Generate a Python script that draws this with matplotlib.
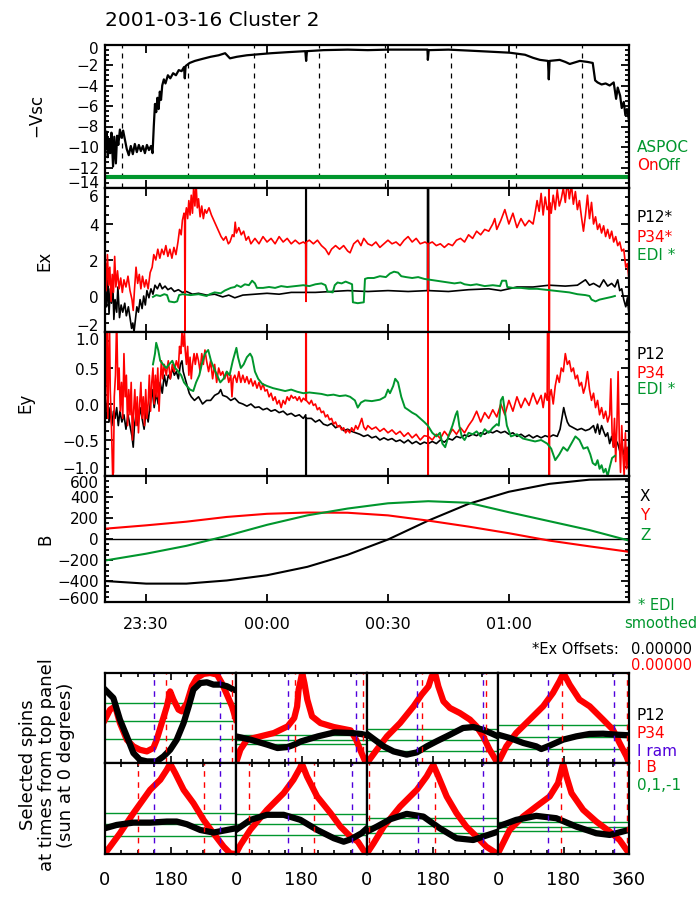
import numpy as np;
import matplotlib;
matplotlib.use('Agg');
import matplotlib.pyplot as plt;
from matplotlib.ticker import FixedLocator, MultipleLocator, AutoMinorLocator, NullLocator;

W, H = 700, 900;
RED = '#ff0000';
GREEN = '#00962d';
BLUE = '#5000dc';

# ---------------- top panels (time = minutes after 00:00 UT) ----------------
t_range = (-40.2, 89.8);
time_ticks = [-30, 0, 30, 60];
time_labels = ['23:30', '00:00', '00:30', '01:00'];
spin_times = [-36.0, -19.6, -3.2, 12.9, 29.3, 45.6, 61.8, 78.1];

vsc_ticks = [-14, -12, -10, -8, -6, -4, -2, 0];
ex_ticks = [-2, 0, 2, 4, 6];
ey_ticks = [-1.0, -0.5, 0.0, 0.5, 1.0];
b_ticks = [-600, -400, -200, 0, 200, 400, 600];

vsc = np.array([
    (-40.1, -10.2), (-39.8, -8.5), (-39.5, -11.0), (-39.2, -9.2), (-38.9, -10.6), (-38.6, -8.6),
    (-38.2, -11.9), (-37.9, -9.0), (-37.5, -11.6), (-37.2, -8.9), (-36.9, -9.8), (-36.5, -8.3),
    (-36.1, -9.1), (-35.7, -8.4), (-35.2, -9.4), (-34.8, -10.2), (-34.3, -10.8), (-33.8, -9.9),
    (-33.3, -10.7), (-32.8, -9.7), (-32.3, -10.5), (-31.8, -9.8), (-31.3, -10.4), (-30.8, -9.9),
    (-30.3, -10.6), (-29.8, -9.8), (-29.3, -10.3), (-28.8, -9.9), (-28.4, -10.6), (-28.1, -8.0),
    (-27.8, -5.8), (-27.5, -6.6), (-27.2, -5.2), (-26.9, -6.3), (-26.6, -4.6), (-26.3, -5.4),
    (-26.0, -4.0), (-25.6, -3.4), (-25.2, -3.8), (-24.6, -3.0), (-24.0, -3.3), (-23.3, -2.8),
    (-22.6, -3.0), (-21.9, -2.5), (-21.2, -2.6), (-20.6, -2.2), (-20.4, -3.3), (-20.2, -2.1),
    (-19.2, -1.8), (-17.9, -1.6), (-16.0, -1.4), (-14.0, -1.2), (-12.0, -1.05), (-10.4, -0.85),
    (-9.2, -1.35), (-7.5, -1.2), (-5.0, -1.05), (-2.0, -0.95), (1.0, -0.85), (5.0, -0.75),
    (9.5, -0.65), (9.7, -1.6), (9.9, -0.65), (14.0, -0.55), (20.0, -0.5), (25.0, -0.55),
    (30.0, -0.5), (35.0, -0.5), (39.8, -0.5), (39.9, -1.5), (40.1, -0.55), (45.0, -0.5),
    (50.3, -0.6), (55.3, -0.7), (60.2, -0.8), (64.0, -1.0), (66.0, -1.3), (67.7, -1.5),
    (69.7, -1.6), (69.9, -3.4), (70.1, -1.6), (72.6, -1.5), (74.0, -1.7), (75.1, -1.9),
    (77.6, -1.6), (79.5, -1.7), (80.8, -1.8), (81.4, -3.5), (82.0, -3.7), (83.0, -3.9),
    (84.0, -3.8), (85.0, -4.0), (86.0, -3.7), (86.6, -5.3), (87.0, -4.2), (87.6, -5.0),
    (88.0, -6.2), (88.5, -5.6), (88.9, -6.9), (89.3, -6.3), (89.8, -7.4)]);
aspoc_time = [-40.2, 89.8];
aspoc_level = [-12.9, -12.9];

ex_p12 = np.array([
    (-40.1, 0.3), (-39.8, -0.6), (-39.5, 0.9), (-39.2, -1.0), (-38.9, 0.4), (-38.6, -0.4),
    (-38.3, 1.0), (-38.0, -1.3), (-37.7, -0.2), (-37.3, -0.9), (-37.0, 0.5), (-36.6, -1.2),
    (-36.2, -0.5), (-35.8, -0.9), (-35.3, -0.4), (-34.9, -1.1), (-34.4, -0.6), (-34.0, -1.2),
    (-33.6, -1.8), (-33.3, -1.5), (-33.0, -2.0), (-32.7, -1.4), (-32.3, -0.6), (-31.9, -0.9),
    (-31.5, -0.2), (-31.0, -0.7), (-30.6, 0.0), (-30.2, -0.5), (-29.8, 0.3), (-29.3, -0.1),
    (-28.8, 0.4), (-28.3, 0.1), (-27.8, 0.6), (-27.2, 0.4), (-26.6, 0.7), (-26.0, 0.4),
    (-25.3, 0.55), (-24.6, 0.35), (-23.8, 0.45), (-23.0, 0.25), (-22.0, 0.35), (-21.0, 0.2),
    (-20.0, 0.25), (-18.5, 0.1), (-17.0, 0.15), (-15.0, 0.05), (-13.0, 0.1), (-11.0, -0.05),
    (-9.5, 0.05), (-8.0, -0.1), (-6.0, 0.05), (-3.0, 0.1), (0.0, 0.15), (3.0, 0.1),
    (6.0, 0.2), (9.6, 0.2), (9.67, 30.0), (9.75, 0.2), (12.0, 0.2), (16.0, 0.25),
    (20.0, 0.3), (25.0, 0.25), (30.0, 0.3), (35.0, 0.25), (39.8, 0.3), (39.94, 30.0),
    (40.1, 0.3), (45.0, 0.25), (50.0, 0.35), (55.0, 0.4), (58.0, 0.3), (62.0, 0.5),
    (66.0, 0.5), (70.0, 0.6), (74.0, 0.55), (77.0, 0.6), (79.0, 0.9), (80.0, 0.6),
    (81.0, 0.7), (82.5, 0.5), (83.5, 0.9), (84.5, 0.55), (85.5, 0.7), (86.3, 0.5),
    (87.0, 0.9), (87.5, 0.3), (88.0, 0.4), (88.5, -0.2), (89.0, -0.6), (89.4, -0.1),
    (89.8, -1.0)]);

ex_p34 = np.array([
    (-40.1, 1.8), (-39.9, 0.3), (-39.6, 2.3), (-39.3, 0.6), (-39.0, 1.6), (-38.7, -0.3),
    (-38.4, 1.2), (-38.1, 0.2), (-37.8, 2.2), (-37.5, 0.5), (-37.1, 1.4), (-36.7, 0.4),
    (-36.3, 1.0), (-35.9, 0.2), (-35.5, 0.9), (-35.0, 0.5), (-34.5, 1.1), (-34.0, 0.3),
    (-33.5, -0.2), (-33.2, -0.8), (-32.9, 0.3), (-32.5, 1.6), (-32.1, 0.7), (-31.7, 1.2),
    (-31.3, 0.4), (-30.9, 1.1), (-30.4, 0.5), (-30.0, 0.9), (-29.5, 0.4), (-29.0, 1.3),
    (-28.5, 1.6), (-28.1, 2.3), (-27.6, 2.0), (-27.1, 2.6), (-26.6, 2.1), (-26.1, 2.6),
    (-25.6, 2.3), (-25.1, 2.8), (-24.6, 2.2), (-24.1, 2.6), (-23.6, 2.1), (-23.1, 2.7),
    (-22.6, 2.3), (-22.1, 3.0), (-21.7, 3.7), (-21.3, 3.4), (-21.0, 4.2), (-20.6, 4.6),
    (-20.45, 4.4), (-20.35, -2.5), (-20.25, 4.5), (-20.0, 4.9), (-19.7, 4.3), (-19.4, 5.3),
    (-19.1, 4.5), (-18.8, 5.6), (-18.5, 4.6), (-18.2, 6.1), (-17.9, 5.0), (-17.6, 6.2),
    (-17.3, 4.9), (-17.0, 5.4), (-16.6, 4.4), (-16.2, 5.0), (-15.8, 4.3), (-15.4, 4.8),
    (-15.0, 4.6), (-14.4, 4.9), (-13.8, 4.5), (-13.2, 4.2), (-12.6, 3.9), (-12.0, 3.6),
    (-11.4, 3.3), (-10.8, 3.1), (-10.2, 3.3), (-9.6, 2.9), (-9.2, 3.0), (-8.6, 3.4),
    (-8.2, 3.3), (-7.9, 4.1), (-7.6, 3.5), (-7.0, 3.8), (-6.4, 3.4), (-5.8, 3.6),
    (-5.2, 3.1), (-4.6, 3.3), (-4.0, 2.9), (-3.0, 3.2), (-2.0, 2.9), (-1.0, 3.3),
    (0.0, 3.0), (1.0, 3.2), (2.0, 2.9), (3.0, 3.3), (4.0, 3.0), (5.0, 3.2),
    (6.0, 2.9), (7.0, 3.1), (8.0, 2.9), (9.0, 3.0), (9.6, 2.9), (9.67, -0.3),
    (9.75, 3.0), (10.5, 3.1), (11.5, 2.9), (12.5, 3.1), (13.5, 2.8), (14.5, 2.6),
    (15.3, 2.3), (16.0, 2.6), (17.0, 2.8), (18.0, 2.6), (19.0, 2.8), (20.0, 2.5),
    (20.6, 2.4), (21.5, 2.9), (22.5, 3.1), (23.3, 2.8), (24.0, 3.2), (25.0, 2.9),
    (26.0, 2.8), (27.0, 3.0), (28.0, 2.7), (29.0, 2.9), (30.0, 3.1), (31.0, 2.9),
    (32.0, 3.0), (33.0, 2.8), (34.0, 3.1), (35.0, 3.3), (36.0, 3.0), (37.0, 3.2),
    (38.0, 2.9), (39.2, 3.0), (39.9, 2.9), (39.94, -10.0), (40.0, 2.9), (41.0, 3.0),
    (42.0, 2.8), (43.0, 2.9), (44.0, 2.7), (45.0, 2.9), (46.0, 2.8), (47.0, 3.1),
    (48.0, 3.2), (49.0, 3.0), (50.0, 3.4), (51.0, 3.2), (52.0, 3.6), (53.0, 3.4),
    (54.0, 3.7), (55.0, 3.6), (56.0, 4.0), (56.5, 4.3), (57.0, 3.7), (58.0, 4.2),
    (59.0, 4.8), (60.0, 4.0), (61.0, 4.6), (62.0, 3.8), (63.0, 4.3), (64.0, 3.9),
    (65.0, 4.2), (66.0, 4.0), (66.5, 4.6), (67.0, 5.3), (67.5, 4.7), (68.0, 5.7),
    (68.5, 4.5), (69.0, 5.5), (69.5, 4.8), (69.9, 5.0), (69.93, 20.0), (69.99, -20.0),
    (70.1, 5.2), (70.5, 4.6), (71.0, 5.6), (71.5, 4.8), (72.0, 5.9), (72.5, 5.0),
    (73.0, 5.4), (73.5, 6.0), (74.0, 5.2), (74.5, 6.4), (75.0, 5.4), (75.5, 6.2),
    (76.0, 5.1), (76.5, 5.8), (77.0, 4.8), (77.5, 5.3), (78.0, 4.4), (78.5, 3.6),
    (79.0, 4.5), (79.5, 5.6), (80.0, 4.3), (80.5, 5.2), (81.0, 4.0), (81.5, 4.4),
    (82.0, 3.7), (82.5, 4.0), (83.0, 3.5), (83.5, 3.9), (84.0, 3.3), (84.5, 3.7),
    (85.0, 3.2), (85.5, 3.6), (86.0, 3.0), (86.5, 3.3), (87.0, 2.8), (87.5, 3.0),
    (88.0, 2.5), (88.5, 2.6), (89.0, 1.6), (89.4, 1.8), (89.8, 0.9)]);

ex_edi = np.array([
    (-28.3, -0.05), (-27.5, 0.05), (-26.5, 0.0), (-25.5, 0.1), (-24.8, 0.05), (-24.3, -0.3),
    (-23.0, -0.35), (-22.3, -0.3), (-21.8, 0.05), (-21.0, 0.1), (-19.0, 0.05), (-17.0, 0.1),
    (-15.0, 0.0), (-14.2, 0.1), (-13.0, 0.2), (-11.5, 0.15), (-10.5, 0.3), (-9.0, 0.45),
    (-8.0, 0.5), (-7.5, 0.6), (-6.5, 0.5), (-5.5, 0.65), (-4.5, 0.6), (-3.7, 0.85),
    (-3.0, 0.7), (-2.5, 0.45), (-1.0, 0.45), (0.5, 0.5), (2.0, 0.45), (3.5, 0.55),
    (5.0, 0.5), (7.0, 0.55), (9.0, 0.6), (10.5, 0.55), (12.0, 0.65), (13.5, 0.7),
    (14.5, 0.6), (15.0, 0.25), (16.3, 0.2), (16.8, 0.6), (17.5, 0.75), (18.5, 0.7),
    (19.5, 0.8), (20.6, 0.7), (21.1, 0.65), (21.3, -0.35), (22.5, -0.4), (24.0, -0.35),
    (24.3, 0.95), (25.0, 1.0), (26.5, 1.0), (28.0, 1.1), (29.5, 1.05), (30.5, 1.25),
    (31.5, 1.35), (32.5, 1.3), (33.3, 1.1), (34.5, 1.05), (36.0, 1.0), (37.5, 1.05),
    (39.0, 0.95), (40.5, 0.9), (42.0, 0.85), (43.5, 0.8), (45.0, 0.75), (46.5, 0.7),
    (48.0, 0.75), (49.0, 0.65), (50.5, 0.6), (52.0, 0.65), (54.0, 0.55), (56.0, 0.6),
    (57.8, 0.55), (58.3, 0.85), (59.3, 0.85), (59.6, 0.5), (61.0, 0.45), (63.0, 0.45),
    (65.0, 0.4), (67.0, 0.4), (69.0, 0.35), (71.0, 0.3), (73.0, 0.25), (75.0, 0.2),
    (77.0, 0.1), (79.0, 0.05), (80.0, 0.0), (80.5, -0.2), (81.5, -0.3), (82.5, -0.2),
    (83.5, -0.15), (84.5, -0.1), (85.5, -0.05), (86.3, 0.0)]);

ey_p12 = np.array([
    (-40.1, 0.05), (-39.8, -0.2), (-39.5, 0.1), (-39.2, -0.25), (-38.9, -0.05), (-38.5, -0.3),
    (-38.1, -0.1), (-37.7, -0.2), (-37.3, -0.05), (-36.9, -0.3), (-36.5, -0.1), (-36.0, -0.25),
    (-35.5, -0.15), (-35.0, -0.35), (-34.5, -0.15), (-34.0, -0.3), (-33.5, -0.45), (-33.2, -0.6),
    (-32.9, -0.3), (-32.5, -0.15), (-32.0, -0.3), (-31.5, -0.05), (-31.0, -0.2), (-30.5, -0.35),
    (-30.0, -0.1), (-29.5, -0.25), (-29.0, 0.0), (-28.5, 0.2), (-28.0, -0.05), (-27.5, 0.15),
    (-27.0, 0.0), (-26.5, 0.3), (-26.0, 0.15), (-25.5, 0.4), (-25.0, 0.25), (-24.5, 0.4),
    (-24.0, 0.35), (-23.5, 0.5), (-23.0, 0.4), (-22.5, 0.45), (-22.0, 0.35), (-21.5, 0.55),
    (-21.1, 0.6), (-20.8, 0.45), (-20.3, 0.35), (-19.8, 0.25), (-19.3, 0.15), (-18.8, 0.1),
    (-18.0, 0.05), (-17.0, 0.1), (-16.0, 0.0), (-15.0, 0.05), (-14.0, 0.05), (-13.0, 0.12),
    (-12.0, 0.15), (-11.5, 0.2), (-11.0, 0.12), (-10.0, 0.1), (-9.0, 0.05), (-8.0, 0.08),
    (-7.0, 0.02), (-6.0, 0.0), (-5.0, -0.03), (-4.0, 0.0), (-3.0, -0.05), (-2.0, -0.04),
    (-1.0, -0.08), (0.0, -0.06), (1.0, -0.1), (2.0, -0.08), (3.0, -0.12), (4.0, -0.1),
    (5.0, -0.15), (6.0, -0.13), (7.0, -0.17), (8.0, -0.15), (9.0, -0.2), (9.6, -0.15),
    (9.67, -5.0), (9.75, -0.2), (11.0, -0.2), (12.0, -0.25), (13.0, -0.22), (14.0, -0.28),
    (15.0, -0.3), (16.0, -0.27), (17.0, -0.33), (18.0, -0.3), (19.0, -0.37), (20.0, -0.35),
    (21.0, -0.38), (22.0, -0.4), (23.0, -0.42), (24.0, -0.45), (25.0, -0.43), (26.0, -0.47),
    (27.0, -0.45), (28.0, -0.5), (29.0, -0.47), (30.0, -0.5), (31.0, -0.48), (32.0, -0.52),
    (33.0, -0.5), (34.0, -0.54), (35.0, -0.5), (36.0, -0.55), (37.0, -0.52), (38.0, -0.56),
    (39.0, -0.53), (39.9, -0.55), (39.94, -0.78), (40.0, -0.55), (41.0, -0.52), (42.0, -0.55),
    (43.0, -0.5), (44.0, -0.53), (45.0, -0.48), (46.0, -0.5), (47.0, -0.45), (48.0, -0.47),
    (49.0, -0.43), (50.0, -0.45), (51.0, -0.42), (52.0, -0.44), (53.0, -0.4), (54.0, -0.42),
    (55.0, -0.38), (56.0, -0.4), (57.0, -0.37), (58.0, -0.4), (59.0, -0.38), (60.0, -0.42),
    (61.0, -0.4), (62.0, -0.45), (63.0, -0.42), (64.0, -0.46), (65.0, -0.43), (66.0, -0.47),
    (67.0, -0.44), (68.0, -0.47), (69.0, -0.44), (70.0, -0.46), (71.0, -0.43), (72.0, -0.45),
    (72.7, -0.35), (73.3, -0.15), (73.6, -0.05), (74.0, -0.15), (74.5, -0.25), (75.0, -0.3),
    (76.0, -0.33), (77.0, -0.36), (78.0, -0.34), (79.0, -0.37), (80.0, -0.35), (81.0, -0.3),
    (81.5, -0.4), (82.0, -0.28), (82.5, -0.42), (83.0, -0.3), (83.5, -0.38), (84.0, -0.45),
    (84.5, -0.4), (85.0, -0.55), (85.5, -0.45), (86.0, -0.6), (86.5, -0.5), (87.0, -0.55),
    (87.5, -0.65), (88.0, -0.55), (88.5, -0.7), (89.0, -0.6), (89.4, -0.75), (89.8, -0.7)]);

ey_p34 = np.array([
    (-40.1, -0.1), (-39.9, 0.6), (-39.7, 1.2), (-39.5, -0.2), (-39.3, 0.5), (-39.1, 1.2),
    (-38.9, 0.2), (-38.6, -0.3), (-38.3, -1.0), (-38.1, -0.95), (-37.9, 0.1), (-37.6, 0.4),
    (-37.3, 1.2), (-37.0, 0.2), (-36.7, 0.5), (-36.4, -0.1), (-36.1, 0.3), (-35.8, -0.2),
    (-35.5, 0.7), (-35.2, 0.1), (-34.9, 0.4), (-34.6, -0.3), (-34.3, 0.2), (-34.0, -0.15),
    (-33.7, 0.3), (-33.4, -0.5), (-33.1, -0.1), (-32.8, 0.2), (-32.5, -0.3), (-32.2, 0.1),
    (-31.9, -0.4), (-31.6, 0.0), (-31.3, 0.3), (-31.0, -0.2), (-30.7, 0.1), (-30.4, -0.3),
    (-30.1, 0.2), (-29.8, -0.2), (-29.5, 0.0), (-29.2, 0.4), (-28.9, -0.1), (-28.6, 0.3),
    (-28.3, 0.5), (-28.0, 0.0), (-27.7, 0.4), (-27.4, 0.1), (-27.1, 0.5), (-26.8, -0.1),
    (-26.5, 0.3), (-26.2, 0.6), (-25.9, 0.35), (-25.5, 0.55), (-25.0, 0.4), (-24.5, 0.6),
    (-24.0, 0.35), (-23.5, 0.55), (-23.0, 0.45), (-22.5, 0.6), (-22.0, 0.5), (-21.7, 0.8),
    (-21.4, 0.7), (-21.1, 1.0), (-20.8, 0.8), (-20.5, 1.0), (-20.3, 0.75), (-20.0, 0.55),
    (-19.7, 0.8), (-19.4, 0.4), (-19.1, 0.65), (-18.8, 0.35), (-18.5, 0.55), (-18.1, 0.7),
    (-17.8, 0.55), (-17.4, 0.7), (-17.0, 0.6), (-16.6, 0.45), (-16.2, 0.7), (-15.8, 0.55),
    (-15.4, 0.75), (-15.0, 0.6), (-14.5, 0.45), (-14.0, 0.6), (-13.5, 0.35), (-13.0, 0.55),
    (-12.5, 0.3), (-12.0, 0.5), (-11.5, 0.4), (-11.0, 0.45), (-10.5, 0.35), (-10.0, 0.45),
    (-9.5, 0.3), (-9.0, 0.4), (-8.7, 0.1), (-8.4, 0.35), (-8.0, 0.4), (-7.5, 0.3),
    (-7.0, 0.45), (-6.5, 0.3), (-6.0, 0.4), (-5.5, 0.3), (-5.0, 0.38), (-4.5, 0.28),
    (-4.0, 0.35), (-3.5, 0.25), (-3.0, 0.32), (-2.5, 0.22), (-2.0, 0.3), (-1.5, 0.2),
    (-1.0, 0.28), (-0.5, 0.18), (0.0, 0.2), (0.5, 0.1), (1.0, 0.15), (1.5, 0.05),
    (2.0, 0.1), (2.5, 0.0), (3.0, 0.05), (3.5, -0.05), (4.0, 0.05), (4.5, 0.0),
    (5.0, 0.1), (5.5, 0.05), (6.0, 0.12), (6.5, 0.08), (7.0, 0.1), (7.5, 0.05),
    (8.0, 0.1), (8.5, 0.03), (9.0, 0.08), (9.6, 0.05), (9.67, 5.0), (9.75, 0.05),
    (10.5, 0.0), (11.0, 0.05), (11.5, -0.02), (12.0, 0.0), (12.5, -0.08), (13.0, -0.05),
    (13.5, -0.12), (14.0, -0.1), (14.5, -0.18), (15.0, -0.15), (15.5, -0.22), (16.0, -0.2),
    (16.5, -0.28), (17.0, -0.25), (17.5, -0.32), (18.0, -0.3), (18.5, -0.36), (19.0, -0.33),
    (19.5, -0.4), (20.0, -0.36), (20.5, -0.4), (21.0, -0.33), (21.5, -0.38), (22.0, -0.3),
    (22.5, -0.35), (23.0, -0.28), (23.5, -0.2), (24.0, -0.32), (24.5, -0.36), (25.0, -0.3),
    (26.0, -0.35), (27.0, -0.32), (28.0, -0.38), (29.0, -0.34), (30.0, -0.4), (31.0, -0.36),
    (32.0, -0.42), (33.0, -0.38), (34.0, -0.45), (35.0, -0.4), (36.0, -0.47), (37.0, -0.42),
    (38.0, -0.5), (39.0, -0.44), (39.9, -0.45), (39.92, 5.0), (39.96, -5.0), (40.0, -0.45),
    (41.0, -0.5), (42.0, -0.42), (43.0, -0.48), (44.0, -0.38), (45.0, -0.45), (46.0, -0.35),
    (47.0, -0.42), (48.0, -0.33), (49.0, -0.4), (50.0, -0.3), (51.0, -0.22), (52.0, -0.1),
    (53.0, -0.25), (54.0, -0.12), (55.0, -0.2), (56.0, -0.08), (57.0, -0.18), (58.0, 0.0),
    (59.0, -0.15), (60.0, 0.05), (61.0, -0.1), (62.0, 0.1), (63.0, -0.05), (64.0, 0.08),
    (65.0, -0.02), (66.0, 0.15), (67.0, 0.0), (68.0, 0.12), (68.5, -0.05), (69.0, 0.15),
    (69.5, 0.05), (69.93, 5.0), (69.99, -5.0), (70.1, 0.1), (70.5, 0.2), (71.0, 0.0),
    (71.5, 0.25), (72.0, 0.4), (72.5, 0.3), (73.0, 0.5), (73.5, 0.45), (74.0, 0.7),
    (74.5, 0.55), (75.0, 0.6), (75.5, 0.45), (76.0, 0.5), (76.5, 0.35), (77.0, 0.4),
    (77.5, 0.25), (78.0, 0.3), (78.5, 0.15), (79.0, 0.25), (79.5, 0.45), (80.0, 0.2),
    (80.5, 0.05), (81.0, 0.15), (81.5, -0.05), (82.0, 0.05), (82.5, -0.15), (83.0, -0.05),
    (83.5, -0.2), (84.0, -0.1), (84.5, -0.25), (85.0, -0.15), (85.3, 0.35), (85.6, -0.4),
    (85.9, -0.6), (86.2, -0.2), (86.5, -0.8), (86.8, -0.3), (87.1, 0.45), (87.4, -0.5),
    (87.7, -0.95), (88.0, -0.3), (88.3, -0.7), (88.6, -1.0), (88.9, -0.4), (89.2, -0.9),
    (89.5, -0.6), (89.8, -1.0)]);

ey_edi = np.array([
    (-28.3, 0.55), (-27.8, 0.7), (-27.5, 0.85), (-27.0, 0.75), (-26.5, 0.6), (-25.8, 0.55),
    (-25.0, 0.5), (-24.3, 0.55), (-23.5, 0.6), (-22.8, 0.5), (-22.0, 0.45), (-21.3, 0.4),
    (-20.6, 0.3), (-19.9, 0.25), (-19.1, 0.2), (-18.3, 0.18), (-17.6, 0.3), (-16.8, 0.4),
    (-16.2, 0.55), (-15.4, 0.7), (-14.6, 0.75), (-13.9, 0.6), (-13.2, 0.5), (-12.4, 0.4),
    (-11.6, 0.3), (-10.8, 0.35), (-10.0, 0.45), (-9.3, 0.4), (-8.5, 0.6), (-8.0, 0.7),
    (-7.6, 0.78), (-7.2, 0.65), (-6.5, 0.5), (-5.8, 0.55), (-5.0, 0.65), (-4.2, 0.7),
    (-3.7, 0.65), (-3.0, 0.45), (-2.2, 0.35), (-1.2, 0.28), (0.0, 0.25), (1.5, 0.22),
    (3.0, 0.2), (4.5, 0.18), (6.0, 0.2), (7.5, 0.17), (9.0, 0.15), (10.5, 0.16),
    (12.0, 0.15), (13.5, 0.14), (15.0, 0.12), (16.5, 0.13), (18.0, 0.11), (19.5, 0.12),
    (20.6, 0.1), (21.8, 0.05), (22.5, -0.05), (23.3, 0.02), (24.3, 0.05), (26.0, 0.04),
    (28.0, 0.06), (29.3, 0.1), (30.0, 0.2), (30.5, 0.15), (31.3, 0.25), (31.8, 0.35),
    (32.5, 0.3), (33.3, 0.1), (34.2, -0.05), (35.0, -0.08), (36.0, -0.12), (37.0, -0.15),
    (38.0, -0.2), (39.0, -0.25), (39.9, -0.3), (41.0, -0.4), (42.0, -0.45), (42.9, -0.4),
    (43.5, -0.55), (44.2, -0.6), (45.0, -0.45), (46.0, -0.3), (46.8, -0.15), (47.2, -0.1),
    (47.7, -0.3), (48.3, -0.45), (49.0, -0.5), (50.0, -0.4), (51.0, -0.42), (52.0, -0.38),
    (53.0, -0.45), (54.0, -0.35), (55.0, -0.4), (56.0, -0.33), (57.0, -0.28), (57.5, -0.3),
    (58.0, 0.05), (58.5, 0.1), (59.0, -0.1), (59.5, -0.3), (60.5, -0.45), (62.0, -0.42),
    (63.5, -0.48), (65.0, -0.5), (66.5, -0.52), (68.0, -0.5), (69.5, -0.55), (70.5, -0.62),
    (71.5, -0.78), (72.5, -0.7), (73.5, -0.6), (74.5, -0.65), (75.5, -0.55), (76.5, -0.45),
    (77.5, -0.5), (78.5, -0.62), (79.5, -0.6), (80.2, -0.7), (80.8, -0.82), (81.5, -0.85),
    (82.0, -0.78), (82.5, -0.9), (83.0, -0.85), (83.5, -0.95), (84.0, -0.9), (84.5, -1.0),
    (85.0, -0.88), (85.6, -0.75), (86.3, -0.72)]);

b_time = [-40.2, -30, -20, -10, 0, 10, 20, 30, 40, 50, 60, 70, 80, 89.8];
bx = [-400, -425, -425, -395, -345, -265, -150, -5, 175, 335, 450, 525, 565, 570];
by = [98, 130, 165, 210, 240, 252, 250, 225, 175, 118, 55, -15, -70, -122];
bz = [-205, -140, -65, 30, 135, 225, 290, 340, 360, 345, 255, 170, 85, -15];

# ---------------- selected spins (phase in degrees, sun at 0) ----------------
p12_phase = [
    [0, 23, 41, 60, 78, 96, 115, 142, 161, 179, 197, 216, 230, 243, 262, 280, 298, 317, 335, 353, 360],
    [0, 40, 86, 114, 142, 160, 179, 225, 271, 317, 345, 360],
    [0, 46, 73, 109, 137, 164, 191, 228, 264, 292, 319, 346, 360],
    [0, 32, 69, 105, 119, 142, 179, 215, 252, 289, 325, 360],
    [0, 32, 78, 124, 170, 197, 225, 262, 298, 335, 360],
    [0, 40, 85, 131, 177, 223, 269, 296, 315, 345, 360],
    [0, 27, 64, 109, 155, 200, 246, 292, 319, 360],
    [0, 50, 105, 160, 215, 270, 307, 360]];
p12_vals = [
    [1.74, 1.27, 0.06, -0.88, -1.81, -2.19, -2.28, -2.28, -2.0, -1.63, -1.07, -0.13, 0.80, 1.74, 2.11, 2.15, 2.02, 2.02, 1.93, 1.74, 1.70],
    [0.71, 0.0, -1.07, -1.79, -1.57, -1.07, -0.36, 0.71, 1.57, 1.43, 1.21, 0.93],
    [0.52, -0.62, -1.08, -1.38, -1.17, -0.62, -0.15, 0.46, 1.08, 1.17, 0.92, 0.52, 0.31],
    [0.19, -0.08, -0.49, -0.77, -0.99, -0.71, -0.22, 0.05, 0.25, 0.27, 0.19, 0.14],
    [-0.34, -0.06, 0.14, 0.14, 0.23, 0.23, 0.0, -0.49, -0.71, -0.49, -0.34],
    [-0.53, 0.41, 0.88, 0.88, 0.41, -0.53, -1.31, -1.63, -1.41, -0.84, -0.38],
    [-0.76, -0.09, 0.89, 1.6, 1.24, -0.31, -1.64, -1.87, -1.42, -0.76],
    [0.0, 1.6, 2.56, 2.0, 0.0, -1.6, -2.0, -0.8]];
p34_phase = [
    [0, 14, 28, 41, 60, 78, 96, 115, 133, 142, 156, 170, 179, 188, 202, 211, 225, 239, 252, 271, 289, 308, 321, 335, 349, 360],
    [0, 12, 30, 67, 104, 142, 160, 168, 172, 182, 188, 196, 209, 232, 269, 315, 330, 345, 357, 360],
    [0, 27, 55, 91, 128, 150, 169, 178, 187, 196, 210, 228, 255, 283, 301, 319, 337, 356, 360],
    [0, 23, 50, 87, 124, 151, 169, 180, 197, 224, 252, 289, 316, 334, 353, 360],
    [0, 14, 41, 78, 124, 152, 170, 179, 193, 216, 243, 271, 298, 326, 344, 360],
    [0, 12, 39, 85, 131, 158, 176, 181, 195, 223, 260, 287, 315, 335, 350, 360],
    [0, 18, 46, 91, 137, 164, 182, 196, 219, 246, 273, 301, 328, 356, 360],
    [0, 32, 69, 105, 142, 165, 179, 188, 202, 234, 270, 307, 334, 360]];
p34_vals = [
    [0.06, 0.62, 0.80, -0.13, -1.07, -1.44, -1.63, -1.72, -1.53, -1.07, -0.13, 0.80, 1.64, 1.18, 0.62, 0.52, 0.99, 1.93, 2.39, 2.62, 2.67, 2.58, 2.11, 1.46, 0.80, 0.06],
    [-5.0, -2.14, 0.0, 0.71, 1.43, 2.86, 4.64, 7.14, 10.71, 14.29, 12.14, 8.57, 5.0, 3.57, 2.71, 2.0, 0.0, -2.86, -5.0, -5.0],
    [-2.15, -0.92, 0.31, 1.54, 3.08, 4.15, 4.92, 5.85, 6.15, 4.92, 3.54, 2.92, 2.46, 1.85, 1.23, 0.31, -0.92, -2.0, -2.15],
    [-2.14, -0.77, 0.33, 1.42, 2.52, 3.62, 4.58, 5.26, 4.30, 3.07, 2.52, 1.42, 0.60, -0.49, -1.59, -2.14],
    [-2.49, -1.91, -0.77, 0.94, 2.94, 3.8, 4.66, 5.17, 4.37, 2.94, 1.8, 0.37, -0.77, -1.91, -2.49, -2.54],
    [-2.72, -1.94, -0.53, 1.34, 2.91, 4.16, 5.25, 5.66, 4.47, 2.59, 1.03, -0.22, -1.16, -1.63, -2.41, -2.78],
    [-3.64, -2.31, -0.09, 2.58, 4.8, 6.58, 8.13, 6.58, 3.91, 1.69, -0.09, -1.42, -2.76, -3.64, -3.73],
    [-6.4, -0.8, 2.4, 4.8, 7.2, 10.4, 15.04, 12.0, 8.0, 4.0, 1.2, -1.2, -3.2, -6.4]];
spin_ylim = [(-2.37, 2.67), (-5.0, 14.3), (-2.15, 6.15), (-2.14, 5.26),
             (-2.54, 5.23), (-2.78, 5.72), (-3.73, 8.36), (-6.56, 15.2)];
ram_phase = [[136, 317], [142, 331], [137, 319], [137, 318], [136, 317], [142, 318], [139, 319], [137, 318]];
bdir_phase = [[167, 349], [163, 349], [150, 328], [175, 355], [92, 273], [35, 214], [5, 186], [174, 354]];
ref_levels = [1, 0, -1];


def rect(x0: float, y0: float, x1: float, y1: float) -> list:
    """
    Converts a pixel box (top-left origin) to a figure-fraction rectangle.
    """
    return [x0 / W, 1 - y1 / H, (x1 - x0) / W, (y1 - y0) / H];


def style_time_axes(ax, ylim: tuple, ticks: list, nminor: int, fmt: str,
                    shifts: tuple = (-5, 2.5, 9)) -> None:
    """
    Gives a time panel the IDL look: inward ticks on all four sides and
    y labels that sit a little below their ticks (edge labels pushed inward).

    shifts: downward pixel shift of (bottom label, inner labels, top label).
    """
    ax.set_xlim(*t_range);
    ax.set_ylim(*ylim);
    ax.xaxis.set_major_locator(FixedLocator(time_ticks));
    ax.xaxis.set_minor_locator(NullLocator());
    ax.yaxis.set_major_locator(FixedLocator(ticks));
    ax.yaxis.set_minor_locator(AutoMinorLocator(nminor));
    ax.tick_params(which='both', direction='in', top=True, right=True, width=1.3,
                   labelleft=False, labelbottom=False);
    ax.tick_params(which='major', length=6);
    ax.tick_params(which='minor', length=3);
    for s in ax.spines.values():
        s.set_linewidth(1.6);
    for i, v in enumerate(ticks):
        shift = shifts[1];
        if i == 0:
            shift = shifts[0];
        elif i == len(ticks) - 1:
            shift = shifts[2];
        ax.annotate(fmt.format(v).replace('-', '−'), xy=(0, v), xycoords=('axes fraction', 'data'),
                    xytext=(-6, -shift), textcoords='offset pixels', ha='right', va='center',
                    fontsize=11, annotation_clip=False);


def label(x: float, y: float, s: str, color: str = 'k', size: float = 11, **kw) -> None:
    """
    Puts text on the figure at a pixel position (x left edge, y centre).
    """
    kw.setdefault('ha', 'left');
    plt.gcf().text(x / W, 1 - y / H, s, color=color, fontsize=size, va='center', **kw);


def main():
    fig = plt.figure(figsize=(7, 9), dpi=100);

    fig.text(105 / W, 1 - 20 / H, '2001-03-16 Cluster 2', fontsize=14.5, va='center');

    # panel 1: spacecraft potential
    ax1 = fig.add_axes(rect(105, 44.5, 629, 188));
    style_time_axes(ax1, (-14, 0), vsc_ticks, 4, '{:d}', shifts=(-4, 1.5, 5));
    for t in spin_times:
        ax1.axvline(t, color='k', lw=0.9, ls=(0, (4, 4)));
    ax1.plot(aspoc_time, aspoc_level, color=GREEN, lw=3);
    ax1.plot(vsc[:, 0], vsc[:, 1], color='k', lw=1.6);
    label(36, 115, '−Vsc', size=12, ha='center', rotation=90);
    label(637, 147, 'ASPOC', GREEN);
    label(637, 166, 'On', RED);
    label(657, 166, 'Off', GREEN);

    # panel 2: Ex
    ax2 = fig.add_axes(rect(105, 188, 629, 332));
    style_time_axes(ax2, (-2, 6), ex_ticks, 4, '{:d}', shifts=(-5, 2.5, 10));
    ax2.plot(ex_p12[:, 0], ex_p12[:, 1], color='k', lw=1.2);
    ax2.plot(ex_p34[:, 0], ex_p34[:, 1], color=RED, lw=1.2);
    ax2.plot(ex_edi[:, 0], ex_edi[:, 1], color=GREEN, lw=1.4);
    label(44, 261, 'Ex', size=12, ha='center', rotation=90);
    label(637, 218, 'P12*');
    label(637, 237, 'P34*', RED);
    label(637, 255, 'EDI *', GREEN);

    # panel 3: Ey
    ax3 = fig.add_axes(rect(105, 332, 629, 476));
    style_time_axes(ax3, (-1, 1), ey_ticks, 4, '{:.1f}', shifts=(-6, 2.5, 9));
    ax3.plot(ey_p12[:, 0], ey_p12[:, 1], color='k', lw=1.2);
    ax3.plot(ey_p34[:, 0], ey_p34[:, 1], color=RED, lw=1.2);
    ax3.plot(ey_edi[:, 0], ey_edi[:, 1], color=GREEN, lw=1.4);
    label(25, 403, 'Ey', size=12, ha='center', rotation=90);
    label(637, 355, 'P12');
    label(637, 373, 'P34', RED);
    label(637, 390, 'EDI *', GREEN);

    # panel 4: magnetic field
    ax4 = fig.add_axes(rect(105, 476, 629, 602));
    style_time_axes(ax4, (-600, 600), b_ticks, 4, '{:d}', shifts=(-2, 1.5, 8));
    ax4.axhline(0, color='k', lw=1);
    ax4.plot(b_time, bx, color='k', lw=1.5);
    ax4.plot(b_time, by, color=RED, lw=1.5);
    ax4.plot(b_time, bz, color=GREEN, lw=1.5);
    ax4.set_xticks(time_ticks, time_labels);
    ax4.tick_params(axis='x', labelbottom=True, pad=11, labelsize=11.5);
    label(45, 539, 'B', size=12, ha='center', rotation=90);
    label(640, 497, 'X');
    label(640, 516, 'Y', RED);
    label(640, 535, 'Z', GREEN);
    label(638, 605, '* EDI', GREEN, size=10.5);
    label(624, 623, 'smoothed', GREEN, size=10.5);

    label(619, 649, '*Ex Offsets:', size=10.5, ha='right');
    label(631, 649, '0.00000', size=10.5);
    label(631, 666, '0.00000', RED, size=10.5);

    # selected spins
    xs = [105, 236, 367, 498, 629];
    ys = [673, 763, 854];
    for i in range(8):
        row, col = divmod(i, 4);
        ax = fig.add_axes(rect(xs[col], ys[row], xs[col + 1], ys[row + 1]));
        ax.set_xlim(0, 360);
        ax.set_ylim(*spin_ylim[i]);
        for lv in ref_levels:
            ax.axhline(lv, color=GREEN, lw=1);
        ax.plot(p34_phase[i], p34_vals[i], color=RED, lw=4.5, solid_joinstyle='round');
        ax.plot(p12_phase[i], p12_vals[i], color='k', lw=4.5, solid_joinstyle='round');
        for ph in ram_phase[i]:
            ax.axvline(ph, color=BLUE, lw=1, ls=(0, (4, 4)));
        for ph in bdir_phase[i]:
            ax.axvline(ph, color=RED, lw=1, ls=(0, (4, 4)));
        ax.set_xticks([0, 180, 360]);
        ax.xaxis.set_minor_locator(MultipleLocator(45));
        ax.yaxis.set_major_locator(NullLocator());
        ax.tick_params(which='both', direction='in', top=True, width=1.2, labelsize=13, pad=12);
        ax.tick_params(which='major', length=5);
        ax.tick_params(which='minor', length=3);
        for s in ax.spines.values():
            s.set_linewidth(1.6);
        if row == 0:
            ax.tick_params(labelbottom=False);
        else:
            ax.set_xticklabels(['0', '180', '360' if col == 3 else '']);

    label(47, 765, 'Selected spins\nat times from top panel\n(sun at 0 degrees)', size=13,
          ha='center', rotation=90, multialignment='center', linespacing=1.05);
    label(637, 716, 'P12');
    label(637, 733, 'P34', RED);
    label(637, 751, 'I ram', BLUE);
    label(637, 768, 'I B', RED);
    label(637, 786, '0,1,-1', GREEN);

    fig.savefig('out.png', dpi=100);
    plt.close(fig);


if __name__ == "__main__":
    main();
